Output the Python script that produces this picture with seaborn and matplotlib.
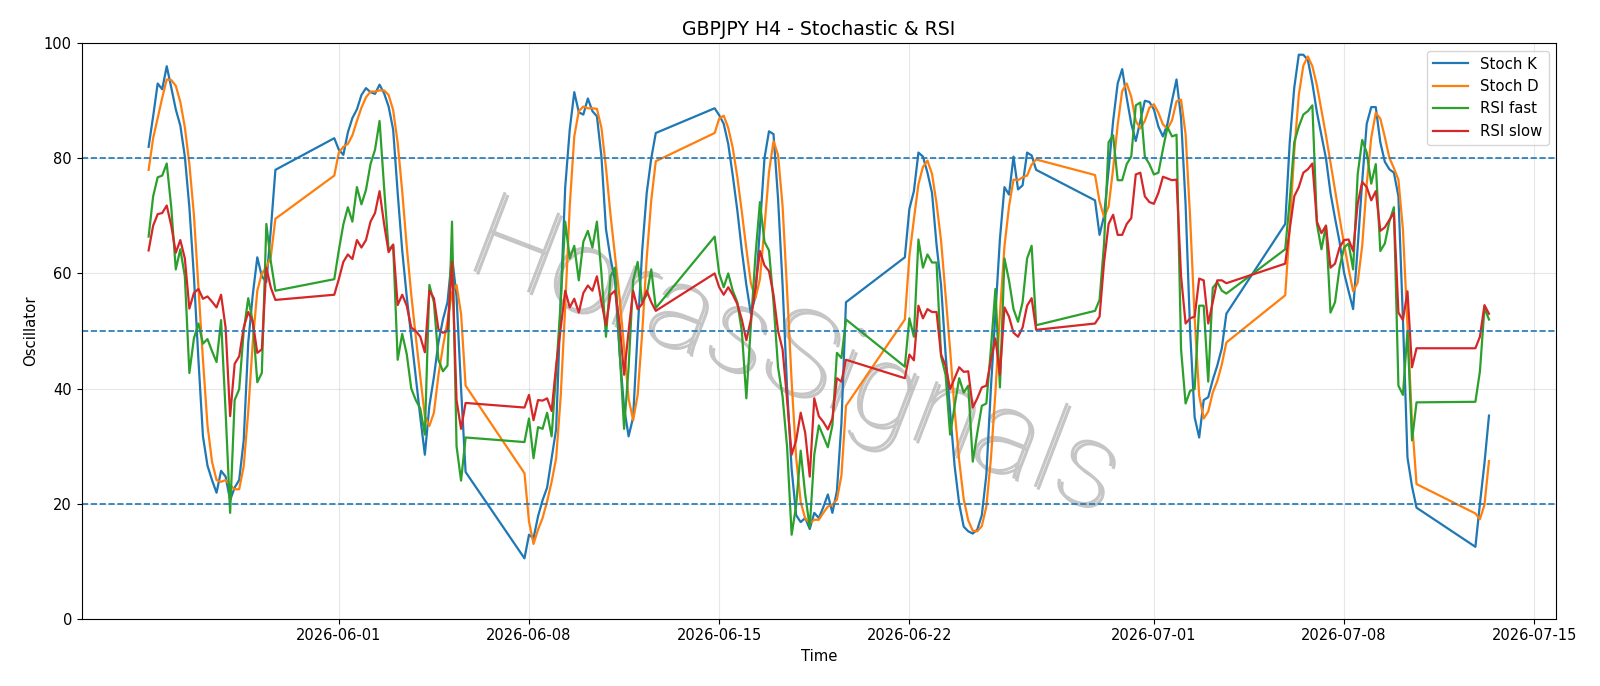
import matplotlib
matplotlib.use("Agg")
import pandas as pd
import matplotlib.pyplot as plt
import matplotlib.patheffects as pe
import seaborn as sns

# H4 bars, one block per trading week (first week starts Monday, the rest at Sunday 20:00)
week_open = ["2026-05-25 00:00", "2026-05-31 20:00", "2026-06-07 20:00", "2026-06-14 20:00",
             "2026-06-21 20:00", "2026-06-28 20:00", "2026-07-05 20:00", "2026-07-12 20:00"]
week_bars = [29, 30, 30, 30, 30, 30, 30, 4]

stoch_k = [
    82, 87.3, 93, 92, 96, 92.3, 88.5, 85.7, 80.3, 71.5, 59.5, 45, 31.7, 26.6, 24.1, 21.9, 25.7, 24.7, 20.6, 22.8,
    24.1, 31, 48, 56.3, 62.8, 59.5, 58.5, 67.7, 78,
    83.5, 81.5, 80.6, 84.5, 87, 88.5, 91, 92.2, 91.5, 91.2, 92.8, 91.3, 89, 85, 74, 64, 56, 49, 42, 35,
    28.5, 37, 42, 48, 52, 55, 63, 56, 40, 25.5,
    10.5, 14.6, 14, 17.8, 20.6, 22.8, 27.9, 33, 55, 75, 85, 91.5, 88, 87.6, 90.4, 88.2, 87.3, 80.3, 67.7, 62.6,
    58.8, 46.2, 36.7, 31.7, 35, 50, 64, 74, 80, 84.4,
    88.7, 87.5, 86, 82.5, 77, 71, 64, 58, 53, 56, 68, 80, 84.7, 84.2, 73, 58, 40, 26, 18, 16.8,
    17.5, 15.6, 18.4, 17.5, 19.4, 21.6, 18.4, 22.2, 34, 55,
    62.8, 71.2, 74.3, 81, 80.3, 77.5, 74, 65, 58, 46, 36, 26.5, 20, 16, 15.2, 14.8, 15.5, 18, 25, 40,
    53, 66, 75, 73.7, 80.3, 74.6, 75.3, 81, 80.5, 78,
    72.7, 66.7, 70, 78, 86.5, 93, 95.5, 90.5, 86, 83, 86.5, 90, 89.8, 88.5, 85.5, 83.8, 86, 90, 93.7, 87,
    72, 50, 35, 31.5, 38, 38.5, 41.5, 44, 47, 53,
    68.6, 82.8, 92.3, 98, 98, 97.1, 93, 88, 84, 80, 74, 69.6, 65.5, 60.1, 56.9, 53.8, 64.5, 76, 86, 88.9,
    88.9, 82.8, 79.4, 78.1, 77.5, 73.4, 52, 28, 23, 19.3,
    12.5, 20, 27, 35.3,
]

stoch_d = [
    78, 83.5, 87, 90.5, 93.7, 93.6, 92.6, 89.8, 85.4, 79, 70.2, 57.6, 45, 33.6, 27.3, 24.1, 23.8, 24.1, 23.2, 22.5,
    22.5, 26.5, 36, 48, 57, 60, 61, 63, 69.5,
    77, 81, 82, 82.5, 84, 86.5, 88.8, 90.6, 91.6, 91.6, 91.8, 91.8, 91, 88.4, 82.7, 74.3, 64.7, 56.3, 49, 42,
    35.2, 33.5, 35.8, 42.3, 47.3, 51.7, 56.7, 58, 53, 40.5,
    25.3, 16.9, 13, 15.5, 17.5, 20.4, 23.8, 27.9, 38.6, 54.3, 71.7, 83.8, 88.2, 89, 88.7, 88.7, 88.6, 85.3, 78.4, 70.2,
    63, 55.9, 47.2, 38.2, 34.5, 38.9, 49.7, 62.7, 72.7, 79.5,
    84.4, 86.9, 87.4, 85.3, 81.8, 76.8, 70.7, 64.3, 58.3, 55.7, 59, 68, 77.6, 83, 80.6, 71.7, 57, 41.3, 28, 20.3,
    17.4, 16.6, 17.2, 17.2, 18.4, 19.5, 19.8, 20.7, 24.9, 37,
    52, 63, 69.4, 75.5, 78.5, 79.6, 77.3, 72.2, 65.7, 56.3, 46.7, 36.2, 27.5, 20.8, 17.1, 15.3, 15.2, 16.1, 19.5, 27.7,
    39.3, 53, 64.7, 71.6, 76.3, 76.2, 76.7, 77, 78.9, 79.8,
    77.1, 72.5, 69.8, 71.6, 78.2, 85.8, 91.7, 93, 90.7, 86.5, 85.2, 86.5, 88.8, 89.4, 87.9, 85.9, 85.1, 86.6, 89.9, 90.2,
    84.2, 69.7, 52.3, 38.8, 34.8, 36, 39.3, 41.3, 44.2, 48,
    56.2, 68.1, 81.2, 91, 96.1, 97.7, 96, 92.7, 88.3, 84, 79.3, 74.5, 69.7, 65.1, 60.8, 56.9, 58.4, 64.8, 75.5, 83.6,
    87.9, 86.9, 83.7, 80.1, 78.3, 76.3, 67.6, 51.1, 34.3, 23.4,
    18.3, 17.3, 19.8, 27.4,
]

rsi_fast = [
    66.4, 73.4, 76.7, 77, 79.1, 71.5, 60.7, 64.2, 59.5, 42.7, 48.7, 51.3, 47.8, 48.6, 46.5, 44.6, 51.9, 36, 18.4, 38,
    39.9, 50, 55.7, 51.6, 41.1, 42.7, 68.6, 62, 57,
    59, 64, 68.5, 71.5, 69, 75, 72, 74.5, 79, 81.5, 86.5, 75, 64, 65, 45, 49.5, 46, 40, 38, 36.5,
    32, 58, 55, 45, 43, 44, 69, 30, 24, 31.5,
    30.7, 34.8, 27.9, 33.3, 33, 35.8, 31.7, 43, 55, 69, 62.6, 64.8, 58.8, 65.5, 67.4, 64.5, 69, 60, 49, 59.5,
    61, 46.8, 33, 43.7, 58.8, 62, 55, 56.3, 60.7, 54,
    66.4, 60, 57.6, 60, 57, 55, 50, 38.3, 51, 63, 72.4, 65.5, 64, 55, 43.7, 38.6, 29.8, 14.6, 19.7, 29.2,
    21.6, 15.9, 28.5, 33.6, 31.7, 29.8, 33.6, 46.2, 45.3, 52,
    43.8, 52.2, 49, 65.9, 61, 63.3, 61.9, 61.9, 45.6, 42.4, 32, 37, 41.8, 39.3, 40.5, 27.3, 32.3, 37, 37.4, 46.8,
    57.3, 40.2, 62.6, 58.8, 53.8, 51.6, 55, 62.6, 64.8, 51,
    53.5, 55.4, 65.2, 82.8, 84, 76.2, 76.2, 79, 80.3, 89.2, 89.7, 80.3, 79, 77.2, 77.5, 81.6, 85.4, 83.8, 84.1, 46.8,
    37.4, 39.6, 39.9, 54.4, 54.4, 41.2, 57.5, 58.5, 57, 56.5,
    64.2, 72.7, 82.8, 85.5, 87.6, 88.2, 89.2, 68.6, 64.2, 68.3, 53.2, 55, 61, 64.5, 65.2, 60.7, 77.2, 83.2, 81, 75.6,
    79, 63.9, 65.2, 69, 71.5, 40.5, 38.9, 50, 31, 37.6,
    37.7, 43, 54, 52,
]

rsi_slow = [
    64, 68.3, 70.3, 70.5, 71.8, 68.3, 63.6, 65.8, 62.6, 53.9, 56.6, 57.3, 55.6, 56, 55.1, 54.1, 56.3, 50.6, 35.2, 44.3,
    45.6, 50.6, 53.3, 51.6, 46.2, 46.8, 61, 57.5, 55.4,
    56.3, 59, 62, 63.3, 62.5, 65.8, 64.5, 65.8, 69, 70.5, 74.3, 68.6, 63.7, 65, 54.5, 56.3, 54.4, 50.6, 50, 49,
    46.3, 57, 55.7, 50.3, 49.7, 50, 62, 38, 33, 37.5,
    36.7, 38.9, 34.5, 38, 37.9, 38.3, 36.1, 44, 50.5, 57, 54.1, 55.6, 53.2, 56.6, 57.9, 57, 59.5, 55, 51, 56.3,
    57, 51.3, 42.4, 50, 57, 53.8, 54.7, 57, 55, 53.5,
    60, 57.6, 56.3, 57.6, 56.3, 54.7, 52, 48.4, 52, 57.6, 63.9, 61.4, 60.4, 56.3, 50, 46.8, 38, 28.5, 31, 35.8,
    32.3, 24.7, 38.3, 35.2, 34.2, 32.9, 34.8, 41.8, 41.2, 45,
    41.8, 45.9, 44.9, 54.4, 52.2, 53.8, 53.3, 53.3, 45.9, 44, 39.9, 41.8, 43.7, 42.9, 43, 36.7, 38.3, 40.2, 40.5, 44.9,
    48.7, 42.4, 54.1, 52.5, 49.7, 49, 50.6, 54.4, 55.7, 50.2,
    51.3, 52.5, 62, 68.6, 70.2, 66.7, 66.7, 68.6, 69.6, 77.2, 77.5, 73.4, 72.4, 72.1, 74, 76.8, 76.5, 76.2, 76.3, 59.5,
    51.3, 52.2, 52.5, 59.1, 58.8, 51.3, 55, 58.8, 58.8, 58.3,
    61.7, 67.7, 73.4, 75, 77.5, 78.1, 79.1, 69, 67, 68.3, 61, 61.7, 64.5, 65.8, 65.9, 63.9, 72.1, 75.9, 75, 72.7,
    74.3, 67.4, 68, 69.3, 70.5, 53.2, 51.9, 56.9, 43.7, 47,
    47, 49, 54.5, 53,
]

levels = [80, 50, 20]
series_names = ["Stoch K", "Stoch D", "RSI fast", "RSI slow"]

times = []
for start, n in zip(week_open, week_bars):
    times += list(pd.date_range(start, periods=n, freq="4h"))

df = pd.DataFrame({"Time": times, "Stoch K": stoch_k, "Stoch D": stoch_d,
                   "RSI fast": rsi_fast, "RSI slow": rsi_slow})

plt.rcParams["font.size"] = 10.7

fig, ax = plt.subplots(figsize=(16, 6.86), dpi=100)
fig.subplots_adjust(left=0.051, right=0.9725, top=0.937, bottom=0.098)

colors = ["tab:blue", "tab:orange", "tab:green", "tab:red"]
for name, col in zip(series_names, colors):
    sns.lineplot(data=df, x="Time", y=name, ax=ax, color=col, linewidth=1.6, label=name)

for lv in levels:
    ax.axhline(lv, color="tab:blue", linestyle="--", linewidth=1.2)

ax.set_ylim(0, 100)
ax.set_title("GBPJPY H4 - Stochastic & RSI", fontsize=13.6)
ax.set_xlabel("Time")
ax.set_ylabel("Oscillator")
ax.tick_params(labelsize=10.5)
ax.grid(True, alpha=0.3)
ax.legend(loc="upper right", handlelength=2.4)

# watermark
ax.text(0.483, 0.45, "HorasSignals", transform=ax.transAxes, fontsize=86,
        family="Roboto", fontweight="light", color="#c6c6c6", rotation=-21,
        ha="center", va="center", zorder=0.5,
        path_effects=[pe.withSimplePatchShadow(offset=(2, -2), shadow_rgbFace="#8c8c8c", alpha=0.5)])

fig.savefig("out.png", dpi=100)
